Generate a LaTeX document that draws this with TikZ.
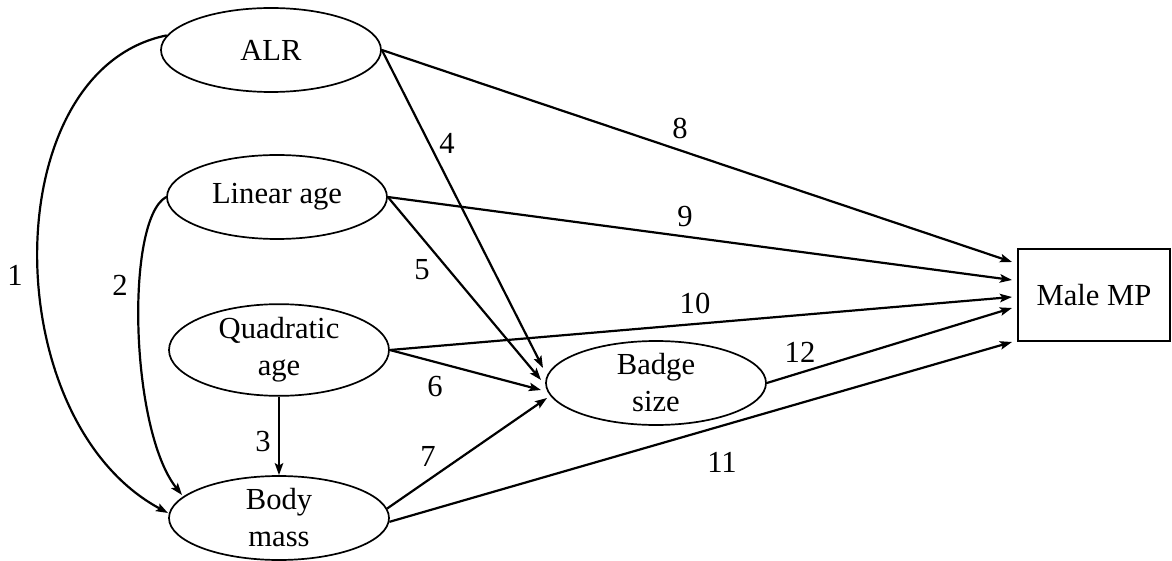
\documentclass[tikz,border=0pt]{standalone}
\usepackage{fontspec}
\setmainfont{Liberation Serif}
\usetikzlibrary{arrows.meta,shapes.geometric}
\begin{document}
\begin{tikzpicture}[x=0.5pt,y=-0.5pt,
  every node/.style={font=\fontsize{15.3pt}{18.5pt}\selectfont},
  var/.style={ellipse,draw,line width=0.85pt,minimum width=110pt,minimum height=42pt,inner sep=0pt,align=center},
  obs/.style={rectangle,draw,line width=0.85pt,minimum width=76pt,minimum height=46pt,inner sep=0pt},
  arr/.style={line width=1.1pt,-{Stealth[length=6pt,width=4.2pt,inset=1.2pt]}},
  lbl/.style={inner sep=0pt}]
\useasboundingbox (0,0) rectangle (1172,561);
\node[var] (alr) at (271,50) {ALR};
\node[var] (la) at (277,197) {Linear age};
\node[var] (qa) at (279,350) {Quadratic\\age};
\node[var] (bm) at (279,518) {Body\\mass};
\node[var] (bs) at (656,383) {Badge\\size};
\node[obs] (mmp) at (1094,295) {Male MP};
% arrow end points
\coordinate (t1) at (168,513);
\coordinate (t2) at (182,495);
\coordinate (t4) at (543,368);
\coordinate (t5) at (541,380);
\coordinate (t6) at (541,390);
\coordinate (t7) at (547,398);
\coordinate (t8) at (1012,262);
\coordinate (t9) at (1012,280);
\coordinate (t10) at (1012,297);
\coordinate (t12) at (1012,308);
\coordinate (t11) at (1012,342);
% connectors
\draw[arr] (alr.172) .. controls (-5,70) and (-5,420) .. (t1);
\draw[arr] (la.west) .. controls (125,220) and (130,430) .. (t2);
\draw[arr] (qa.south) -- (bm.north);
\draw[arr] (alr.east) -- (t4);
\draw[arr] (la.east) -- (t5);
\draw[arr] (qa.east) -- (t6);
\draw[arr] (bm.5) -- (t7);
\draw[arr] (alr.east) -- (t8);
\draw[arr] (la.east) -- (t9);
\draw[arr] (qa.east) -- (t10);
\draw[arr] (bm.-2) -- (t11);
\draw[arr] (bs.east) -- (t12);
% labels
\node[lbl] (l1) at (15,275) {1};
\node[lbl] (l2) at (120,285) {2};
\node[lbl] (l3) at (263,442) {3};
\node[lbl] (l4) at (447,143) {4};
\node[lbl] (l5) at (422,270) {5};
\node[lbl] (l6) at (435,387) {6};
\node[lbl] (l7) at (428,456) {7};
\node[lbl] (l8) at (680,128) {8};
\node[lbl] (l9) at (685,217) {9};
\node[lbl] (l10) at (695,303) {10};
\node[lbl] (l11) at (722,462) {11};
\node[lbl] (l12) at (800,352) {12};
\end{tikzpicture}
\end{document}
